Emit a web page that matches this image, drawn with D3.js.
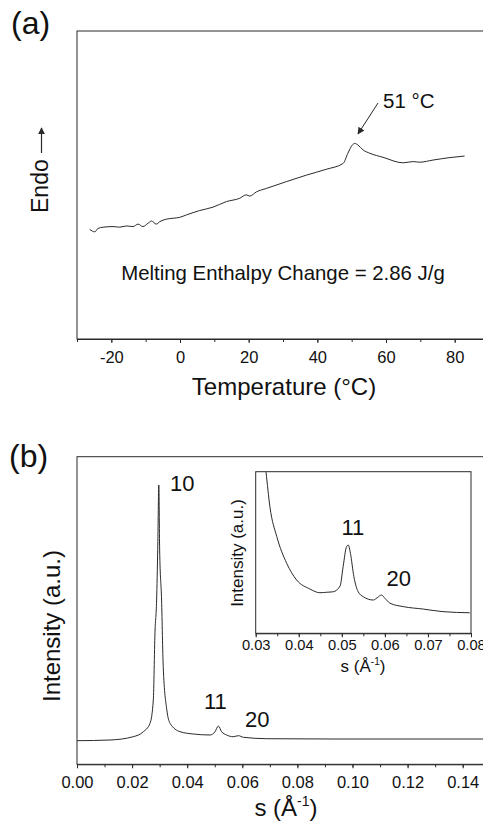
<!DOCTYPE html>
<html>
<head>
<meta charset="utf-8">
<script src="https://cdn.jsdelivr.net/npm/d3@7"></script>
<style>
  body { margin: 0; background: #fff; }
  text { font-family: "Liberation Sans", Arial, sans-serif; fill: #111; }
</style>
</head>
<body>
<div class="canvas"></div>
<script>
// (a) DSC trace: temperature (°C) vs heat flow (arbitrary units)
const dscTemp = [-26.3, -24.8, -23.9, -22.4, -19.5, -17.6, -15.6, -13.7, -12.2, -10.8, -9.3, -8.3, -6.9, -5.9, -4.0, -2.0, -0.1, 1.9, 5.7, 9.6, 13.5, 17.4, 19.3, 20.3, 22.3, 25.2, 31.0, 36.8, 42.6, 47.5, 48.9, 50.2, 50.9, 51.8, 53.3, 55.3, 59.1, 65.0, 67.9, 69.8, 73.7, 78.6, 82.9];
const dscHeat = [3.56, 3.48, 3.59, 3.63, 3.65, 3.63, 3.67, 3.65, 3.73, 3.65, 3.76, 3.83, 3.73, 3.81, 3.89, 3.92, 3.95, 4.03, 4.17, 4.28, 4.46, 4.57, 4.68, 4.64, 4.78, 4.89, 5.11, 5.32, 5.51, 5.70, 6.03, 6.30, 6.35, 6.30, 6.14, 6.03, 5.90, 5.72, 5.76, 5.74, 5.81, 5.89, 5.94];
const dscTicks = [-20, 0, 20, 40, 60, 80];

// (b) SAXS profile: s (1/Å) vs intensity (a.u.)
const saxsS = [0, 0.0120, 0.0204, 0.0241, 0.0265, 0.0277, 0.0283, 0.0289, 0.0293, 0.0297, 0.0300, 0.0307, 0.0313, 0.0326, 0.0338, 0.0374, 0.0422, 0.0483, 0.0501, 0.0513, 0.0525, 0.0543, 0.0567, 0.0586, 0.0604, 0.0689, 0.0929, 0.1474, 0.16];
const saxsInt = [7.67, 7.90, 8.97, 10.6, 13.3, 20.9, 42.7, 53.4, 69.7, 90.8, 69.7, 53.4, 31.7, 17.7, 13.3, 10.6, 9.85, 9.53, 10.6, 12.45, 10.6, 9.53, 8.97, 9.30, 8.78, 8.32, 8.22, 8.22, 8.22];
const saxsTicks = [0, 0.02, 0.04, 0.06, 0.08, 0.10, 0.12, 0.14];

// inset: zoom on the 11 and 20 reflections
const insetS = [0.0310, 0.0324, 0.0333, 0.0349, 0.0372, 0.0395, 0.0426, 0.0449, 0.0465, 0.0480, 0.0496, 0.0503, 0.0511, 0.0515, 0.0520, 0.0528, 0.0538, 0.0550, 0.0573, 0.0585, 0.0592, 0.0600, 0.0612, 0.0643, 0.0689, 0.0735, 0.0797];
const insetInt = [130, 99.6, 78.3, 59.8, 43.3, 33.0, 27.4, 25.1, 25.4, 25.7, 29.3, 41.2, 53.6, 54.6, 49.5, 35.0, 25.7, 22.6, 20.6, 22.6, 23.7, 21.7, 18.6, 16.5, 15.0, 13.4, 12.7];
const insetTicks = [0.03, 0.04, 0.05, 0.06, 0.07, 0.08];

const svg = d3.select('.canvas')
  .append('svg')
    .attr('width', 483)
    .attr('height', 821);

const ink = '#2a2a2a';

// arrow head for the 51 °C note and the Endo label
svg.append('defs').append('marker')
    .attr('id', 'head')
    .attr('viewBox', '0 0 10 10')
    .attr('refX', 9).attr('refY', 5)
    .attr('markerWidth', 7).attr('markerHeight', 7)
    .attr('markerUnits', 'userSpaceOnUse')
    .attr('orient', 'auto')
  .append('path')
    .attr('d', 'M0,0 L10,5 L0,10 z')
    .attr('fill', ink);

// draws bottom axis with major labelled ticks and minor ticks
function bottomAxis(g, scale, major, minor, fmt, size, pad) {
  g.call(d3.axisBottom(scale).tickValues(minor).tickSize(3).tickSizeOuter(0).tickFormat(''))
    .call(a => a.select('.domain').remove());
  const lab = g.append('g')
    .call(d3.axisBottom(scale).tickValues(major).tickSize(4).tickSizeOuter(0).tickFormat(fmt).tickPadding(pad));
  lab.select('.domain').attr('stroke', ink);
  g.selectAll('line').attr('stroke', ink);
  lab.selectAll('text')
    .attr('font-size', size)
    .attr('font-family', '"Liberation Sans", Arial, sans-serif')
    .attr('fill', '#111');
  return lab;
}

// ---------- panel (a) ----------
const ax = d3.scaleLinear().domain([-30, 90]).range([77, 489]);
const ay = d3.scaleLinear().domain([0, 10]).range([339, 31]);

svg.append('rect')
  .attr('x', 77).attr('y', 31)
  .attr('width', 412).attr('height', 308)
  .attr('fill', 'none').attr('stroke', ink);

bottomAxis(svg.append('g').attr('transform', 'translate(0, 339)'),
  ax, dscTicks, d3.range(-30, 91, 10), d => d, 16.5, 8);

svg.append('path')
  .datum(dscTemp.map((t, i) => [t, dscHeat[i]]))
  .attr('fill', 'none')
  .attr('stroke', ink)
  .attr('d', d3.line().x(d => ax(d[0])).y(d => ay(d[1])).curve(d3.curveMonotoneX));

svg.append('text').attr('x', 11).attr('y', 34).attr('font-size', 32).text('(a)');
svg.append('text').attr('x', 284).attr('y', 395).attr('font-size', 24)
  .attr('text-anchor', 'middle').text('Temperature (°C)');

svg.append('text')
  .attr('transform', 'translate(47.5, 213) rotate(-90)')
  .attr('font-size', 23).text('Endo');
svg.append('line')
  .attr('x1', 41.5).attr('y1', 153).attr('x2', 41.5).attr('y2', 128)
  .attr('stroke', ink).attr('stroke-width', 1.2)
  .attr('marker-end', 'url(#head)');

svg.append('text').attr('x', 383).attr('y', 108).attr('font-size', 20.5).text('51 °C');
svg.append('line')
  .attr('x1', 378).attr('y1', 103).attr('x2', 358).attr('y2', 134)
  .attr('stroke', ink).attr('stroke-width', 1)
  .attr('marker-end', 'url(#head)');

svg.append('text').attr('x', 283).attr('y', 280).attr('font-size', 20.4)
  .attr('text-anchor', 'middle').text('Melting Enthalpy Change = 2.86 J/g');

// ---------- panel (b) ----------
const bx = d3.scaleLinear().domain([0, 0.16]).range([77, 517.8]);
const by = d3.scaleLinear().domain([0, 100]).range([764.3, 456.7]);

svg.append('rect')
  .attr('x', 77).attr('y', 456.7)
  .attr('width', 440.8).attr('height', 307.6)
  .attr('fill', 'none').attr('stroke', ink);

bottomAxis(svg.append('g').attr('transform', 'translate(0, 764.3)'),
  bx, saxsTicks, d3.range(0, 17).map(i => i / 100), d3.format('.2f'), 16.5, 8);

svg.append('path')
  .datum(saxsS.map((s, i) => [s, saxsInt[i]]))
  .attr('fill', 'none')
  .attr('stroke', ink)
  .attr('d', d3.line().x(d => bx(d[0])).y(d => by(d[1])).curve(d3.curveMonotoneX));

svg.append('text').attr('x', 9).attr('y', 467).attr('font-size', 32).text('(b)');
svg.append('text')
  .attr('transform', 'translate(60, 626) rotate(-90)')
  .attr('font-size', 24).attr('text-anchor', 'middle').text('Intensity (a.u.)');

const sLabel = svg.append('text').attr('x', 286).attr('y', 816).attr('font-size', 24)
  .attr('text-anchor', 'middle');
sLabel.append('tspan').text('s (Å');
sLabel.append('tspan').attr('font-size', 14).attr('dy', -10).text('-1');
sLabel.append('tspan').attr('dy', 10).text(')');

svg.append('text').attr('x', 170).attr('y', 490.5).attr('font-size', 22).text('10');
svg.append('text').attr('x', 204).attr('y', 709).attr('font-size', 22).text('11');
svg.append('text').attr('x', 245).attr('y', 727).attr('font-size', 22).text('20');

// ---------- inset ----------
const ix = d3.scaleLinear().domain([0.03, 0.08]).range([255.7, 471]);
const iy = d3.scaleLinear().domain([0, 100]).range([633.3, 471.7]);

svg.append('clipPath').attr('id', 'insetClip')
  .append('rect')
    .attr('x', 255.7).attr('y', 471.7)
    .attr('width', 215.3).attr('height', 161.6);

svg.append('rect')
  .attr('x', 255.7).attr('y', 471.7)
  .attr('width', 215.3).attr('height', 161.6)
  .attr('fill', '#fff').attr('stroke', ink);

bottomAxis(svg.append('g').attr('transform', 'translate(0, 633.3)'),
  ix, insetTicks, d3.range(0, 11).map(i => 0.03 + i * 0.005), d3.format('.2f'), 14.7, 2);

svg.append('path')
  .datum(insetS.map((s, i) => [s, insetInt[i]]))
  .attr('clip-path', 'url(#insetClip)')
  .attr('fill', 'none')
  .attr('stroke', ink)
  .attr('d', d3.line().x(d => ix(d[0])).y(d => iy(d[1])).curve(d3.curveMonotoneX));

svg.append('text')
  .attr('transform', 'translate(243, 553) rotate(-90)')
  .attr('font-size', 17).attr('text-anchor', 'middle').text('Intensity (a.u.)');

const isLabel = svg.append('text').attr('x', 363).attr('y', 672).attr('font-size', 17)
  .attr('text-anchor', 'middle');
isLabel.append('tspan').text('s (Å');
isLabel.append('tspan').attr('font-size', 10).attr('dy', -7).text('-1');
isLabel.append('tspan').attr('dy', 7).text(')');

svg.append('text').attr('x', 341.5).attr('y', 535).attr('font-size', 22).text('11');
svg.append('text').attr('x', 386.5).attr('y', 586).attr('font-size', 22).text('20');
</script>
</body>
</html>
